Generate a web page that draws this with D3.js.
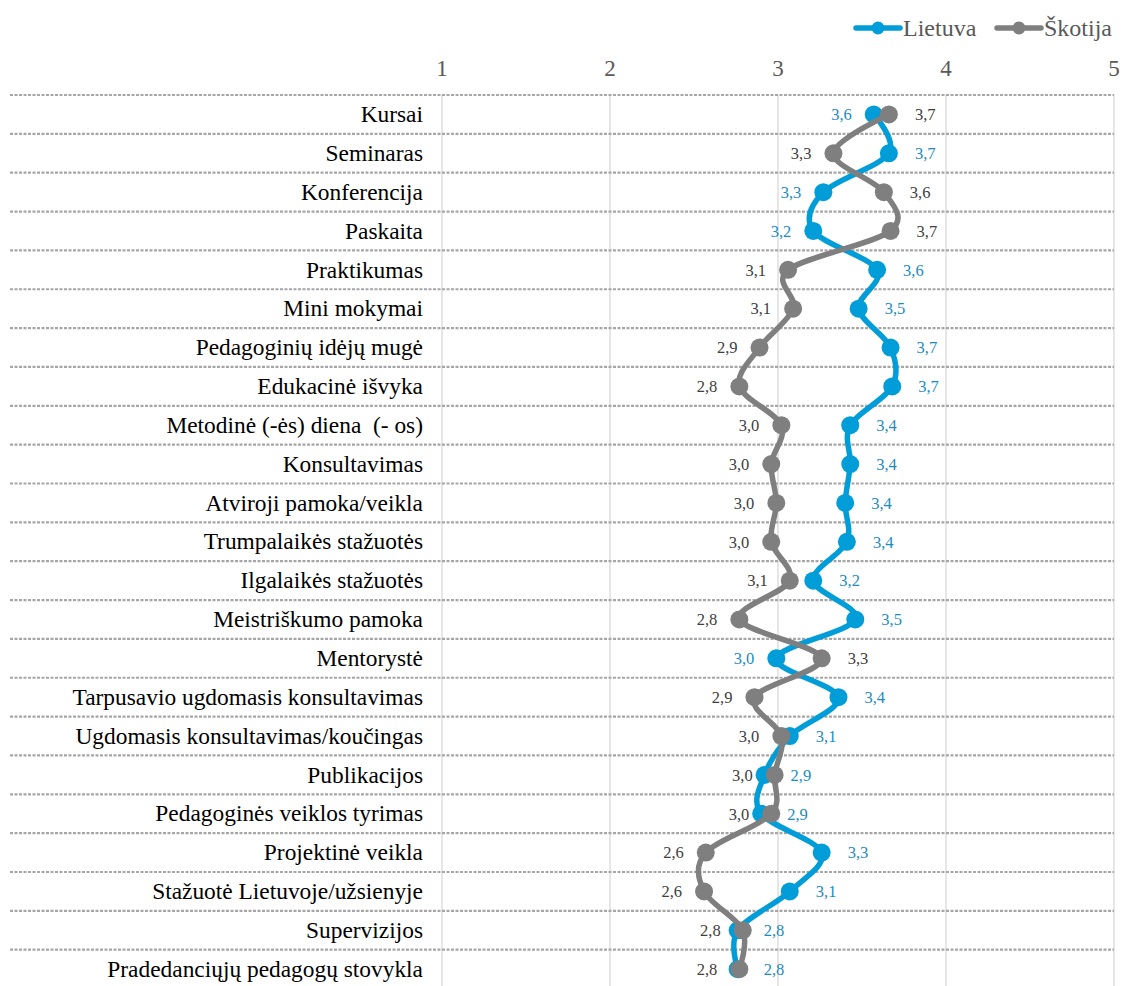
<!DOCTYPE html>
<html>
<head>
<meta charset="utf-8">
<script src="https://cdn.jsdelivr.net/npm/d3@7"></script>
<style>
  body { margin: 0; background: #fff; }
  svg text { font-family: "Liberation Serif", "Times New Roman", serif; }
</style>
</head>
<body>
<div id="chart"></div>
<script>
const categories = ['Kursai', 'Seminaras', 'Konferencija', 'Paskaita', 'Praktikumas', 'Mini mokymai',
    'Pedagoginių idėjų mugė', 'Edukacinė išvyka', 'Metodinė (-ės) diena  (- os)', 'Konsultavimas',
    'Atviroji pamoka/veikla', 'Trumpalaikės stažuotės', 'Ilgalaikės stažuotės', 'Meistriškumo pamoka',
    'Mentorystė', 'Tarpusavio ugdomasis konsultavimas', 'Ugdomasis konsultavimas/koučingas',
    'Publikacijos', 'Pedagoginės veiklos tyrimas', 'Projektinė veikla', 'Stažuotė Lietuvoje/užsienyje',
    'Supervizijos', 'Pradedanciųjų pedagogų stovykla'];

const lietuva = [3.57, 3.66, 3.27, 3.21, 3.59, 3.48, 3.67, 3.68, 3.43, 3.43, 3.40, 3.41, 3.21, 3.46,
    2.99, 3.36, 3.07, 2.92, 2.90, 3.26, 3.07, 2.76, 2.76];
const skotija = [3.66, 3.33, 3.63, 3.67, 3.06, 3.09, 2.89, 2.77, 3.02, 2.96, 2.99, 2.96, 3.07, 2.77,
    3.26, 2.86, 3.02, 2.98, 2.96, 2.57, 2.56, 2.79, 2.77];

const xTicks = [1, 2, 3, 4, 5];
const seriesNames = ['Lietuva', 'Škotija'];

const W = 1123, H = 986;
const blue = '#009dd9', gray = '#7f7f7f';
const blueText = '#1a8cc2', grayText = '#404040';
const serif = '"Liberation Serif", "Times New Roman", serif';

const svg = d3.select('#chart').append('svg')
    .attr('width', W).attr('height', H)
    .attr('font-family', serif);

const x = d3.scaleLinear().domain([1, 5]).range([442, 1114]);
const y = d3.scaleBand().domain(categories).range([95, 95 + 38.85 * categories.length]);
const yc = c => y(c) + y.bandwidth() / 2;

// vertical gridlines
svg.selectAll('.vgrid').data(xTicks).enter()
    .append('line')
    .attr('x1', x).attr('x2', x)
    .attr('y1', 95).attr('y2', H)
    .attr('stroke', '#d9d9d9').attr('stroke-width', 1.3);

// dashed row separators
svg.selectAll('.hgrid').data(categories).enter()
    .append('line')
    .attr('x1', 10).attr('x2', 1114)
    .attr('y1', d => y(d)).attr('y2', d => y(d))
    .attr('stroke', '#a6a6a6').attr('stroke-width', 2.2)
    .attr('stroke-dasharray', '3,1.5');

// top axis labels
svg.selectAll('.tick').data(xTicks).enter()
    .append('text')
    .attr('x', x).attr('y', 68)
    .attr('text-anchor', 'middle').attr('dy', '0.35em')
    .attr('font-size', 23).attr('fill', '#595959')
    .text(d => d);

// category labels
svg.selectAll('.cat').data(categories).enter()
    .append('text')
    .attr('x', 423).attr('y', yc)
    .attr('text-anchor', 'end').attr('dy', '0.33em')
    .attr('font-size', 23.4).attr('fill', '#000')
    .style('white-space', 'pre')
    .text(d => d);

const fmt = v => v.toFixed(1).replace('.', ',');

const series = [
    {name: seriesNames[0], values: lietuva, other: skotija, color: blue, text: blueText},
    {name: seriesNames[1], values: skotija, other: lietuva, color: gray, text: grayText}
];

series.forEach(s => {
    const pts = categories.map((c, i) => ({c, v: s.values[i], o: s.other[i]}));
    const line = d3.line()
        .x(d => x(d.v)).y(d => yc(d.c))
        .curve(d3.curveCardinal.tension(0));
    svg.append('path')
        .datum(pts)
        .attr('d', line)
        .attr('fill', 'none')
        .attr('stroke', s.color)
        .attr('stroke-width', 5.5)
        .attr('stroke-linejoin', 'round');
    svg.selectAll(null).data(pts).enter()
        .append('circle')
        .attr('cx', d => x(d.v)).attr('cy', d => yc(d.c))
        .attr('r', 9)
        .attr('fill', s.color);
});

// value labels: the clearly lower value goes to the left
series.forEach((s, k) => {
    const pts = categories.map((c, i) => ({c, v: s.values[i], o: s.other[i]}));
    const isLeft = d => k === 0 ? d.v < d.o - 0.07 : !(d.o < d.v - 0.07);
    svg.selectAll(null).data(pts).enter()
        .append('text')
        .attr('x', d => isLeft(d) ? x(d.v) - 22 : x(d.v) + 26)
        .attr('y', d => yc(d.c))
        .attr('dy', '0.35em')
        .attr('text-anchor', d => isLeft(d) ? 'end' : 'start')
        .attr('font-size', 16.5)
        .attr('fill', s.text)
        .text(d => fmt(d.v));
});

// legend
const legend = svg.append('g');
const legItems = [
    {name: seriesNames[0], color: blue, x0: 856},
    {name: seriesNames[1], color: gray, x0: 997}
];
legItems.forEach(l => {
    legend.append('line')
        .attr('x1', l.x0).attr('x2', l.x0 + 44)
        .attr('y1', 28).attr('y2', 28)
        .attr('stroke', l.color).attr('stroke-width', 5.5).attr('stroke-linecap', 'round');
    legend.append('circle')
        .attr('cx', l.x0 + 22).attr('cy', 28).attr('r', 6.5)
        .attr('fill', l.color);
    legend.append('text')
        .attr('x', l.x0 + 47).attr('y', 28).attr('dy', '0.35em')
        .attr('font-size', 24).attr('fill', '#595959')
        .text(l.name);
});
</script>
</body>
</html>
